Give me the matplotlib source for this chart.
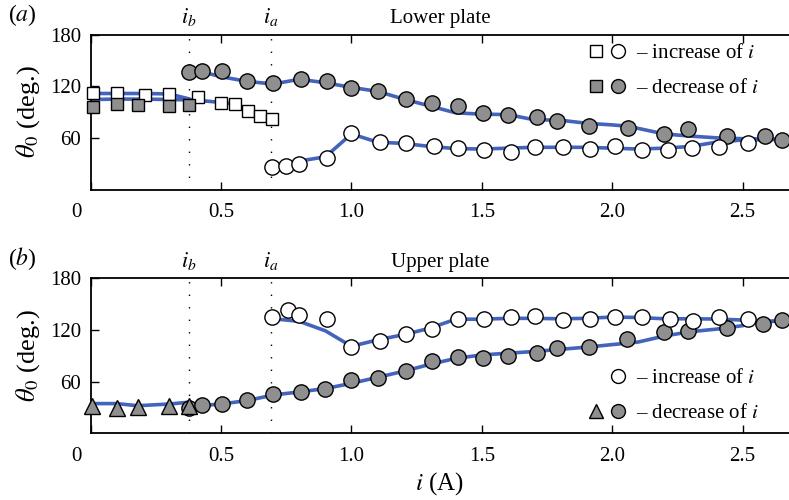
import numpy as np
import matplotlib
matplotlib.use('Agg')
import matplotlib.pyplot as plt
from matplotlib.lines import Line2D
from matplotlib.legend_handler import HandlerTuple

plt.rcParams['font.family'] = ['Liberation Serif', 'DejaVu Serif']
plt.rcParams['mathtext.fontset'] = 'stix'

# ---- panel (a): lower plate ----
a_sq_inc_x = [0.01, 0.10, 0.21, 0.30, 0.41, 0.50, 0.555, 0.605, 0.65, 0.695]
a_sq_inc_y = [112, 112, 109.5, 111, 107, 100.5, 99, 91.5, 85.5, 81.5]
a_sq_dec_x = [0.01, 0.10, 0.18, 0.30, 0.375]
a_sq_dec_y = [96, 99, 98.5, 97.5, 98.5]
a_ci_dec_x = [0.375, 0.425, 0.505, 0.60, 0.70, 0.805, 0.905, 1.0, 1.10, 1.21, 1.31, 1.41,
              1.505, 1.60, 1.71, 1.79, 1.91, 2.06, 2.20, 2.29, 2.44, 2.585, 2.65]
a_ci_dec_y = [136.5, 138, 138, 126, 124, 128.5, 126, 117.5, 114, 105, 100.5, 97,
              88.5, 86, 84.5, 79, 73.5, 72, 65, 70, 62, 62, 58]
a_ci_inc_x = [0.695, 0.75, 0.80, 0.905, 1.0, 1.11, 1.21, 1.315, 1.41, 1.51, 1.61, 1.705,
              1.81, 1.915, 2.01, 2.115, 2.215, 2.305, 2.41, 2.52]
a_ci_inc_y = [26, 27, 30, 37, 66, 55, 53.5, 50.5, 48, 46, 43.5, 49.5,
              49.5, 47, 50.5, 45.5, 46, 48.5, 49, 54]

# smoothed curves (blue)
a_fit1_x = [0.0, 0.1, 0.2, 0.3, 0.38]
a_fit1_y = [111.5, 111.5, 111.5, 111, 105]
a_fit2_x = [0.0, 0.1, 0.2, 0.3, 0.38, 0.45, 0.5, 0.55, 0.6]
a_fit2_y = [104.5, 105, 105, 104.5, 104, 102.5, 101, 99.5, 94]
a_fit3_x = [0.42, 0.5, 0.6, 0.7, 0.8, 0.9, 1.0, 1.1, 1.2, 1.3, 1.4, 1.5, 1.6, 1.7,
            1.8, 1.9, 2.0, 2.06, 2.2, 2.3, 2.4, 2.5, 2.6, 2.68]
a_fit3_y = [137, 131, 125.5, 122.5, 128, 124, 118.5, 114, 105, 97, 89, 87.5, 87, 81,
            80.5, 77, 75, 73.5, 64.5, 62, 60, 59, 58.5, 58]
a_fit4_x = [0.69, 0.75, 0.8, 0.9, 1.0, 1.1, 1.2, 1.3, 1.4, 1.5, 1.6, 1.7, 1.8, 1.9,
            2.0, 2.1, 2.2, 2.3, 2.4, 2.5, 2.6, 2.68]
a_fit4_y = [27, 29, 33, 38, 64.5, 55, 53.5, 50, 47.5, 47, 48, 49, 49, 49,
            48, 47, 48, 50, 55, 57.5, 58, 58]

# ---- panel (b): upper plate ----
b_tri_x = [0.005, 0.10, 0.18, 0.30, 0.375]
b_tri_y = [32, 29, 31, 32, 32]
b_ci_dec_x = [0.375, 0.425, 0.505, 0.60, 0.70, 0.805, 0.90, 1.0, 1.10, 1.21, 1.31, 1.41,
              1.505, 1.60, 1.71, 1.79, 1.91, 2.055, 2.20, 2.29, 2.44, 2.58, 2.65]
b_ci_dec_y = [29.5, 33, 34, 38.5, 45.5, 48.5, 52, 62, 64, 72.5, 84.5, 89,
              87, 90, 93, 98.5, 100.5, 109, 118, 119, 122.5, 127, 131]
b_ci_inc_x = [0.695, 0.755, 0.80, 0.905, 1.0, 1.11, 1.21, 1.31, 1.41, 1.51, 1.61, 1.705,
              1.81, 1.915, 2.01, 2.115, 2.22, 2.31, 2.41, 2.52]
b_ci_inc_y = [134.5, 143, 137.5, 133, 100, 107.5, 115, 121, 132.5, 132.5, 134.5, 136,
              131.5, 132.5, 134.5, 135.5, 132.5, 130.5, 135.5, 132.5]

b_fit1_x = [0.0, 0.1, 0.18, 0.3, 0.375]
b_fit1_y = [34.5, 34.5, 32, 34, 36]
b_fit2_x = [0.375, 0.5, 0.6, 0.7, 0.8, 0.9, 1.0, 1.1, 1.2, 1.3, 1.4, 1.5, 1.6, 1.7,
            1.8, 1.9, 2.0, 2.1, 2.2, 2.3, 2.4, 2.5, 2.55, 2.68]
b_fit2_y = [31, 34, 38, 44.5, 48, 52, 58, 65, 72, 80, 87, 91, 93, 95,
            97.5, 100, 103, 106, 113, 118, 121, 125, 129, 131]
b_fit3_x = [0.7, 0.8, 0.9, 1.0, 1.1, 1.2, 1.3, 1.4, 1.5, 1.6, 1.7, 1.8, 1.9, 2.0,
            2.1, 2.2, 2.3, 2.4, 2.5, 2.55, 2.68]
b_fit3_y = [133, 130, 119, 101, 108.5, 114.5, 122, 132.5, 132.5, 133.5, 133.5, 133, 133.5, 135,
            134.5, 133, 133, 132.7, 131.5, 129.5, 131]

i_b = 0.375
i_a = 0.69
x_ticks = [0, 0.5, 1.0, 1.5, 2.0, 2.5]
x_ticklabels = ['', '0.5', '1.0', '1.5', '2.0', '2.5']
y_ticks = [60, 120, 180]

blue = '#3a5bb8'
grey = '#8f8f8f'
fs = 15

fig = plt.figure(figsize=(7.89, 5), dpi=100)
ax_a = fig.add_axes([0.115, 0.621, 0.885, 0.31])
ax_b = fig.add_axes([0.115, 0.1334, 0.885, 0.31])

mk = dict(linestyle='none', markeredgecolor='black', markeredgewidth=1.0,
          clip_on=False, zorder=3)


def style_axes(ax, title):
    ax.set_xlim(0, 2.678)
    ax.set_ylim(0, 180)
    ax.set_xticks(x_ticks)
    ax.set_xticklabels(x_ticklabels)
    ax.set_yticks(y_ticks)
    ax.spines['right'].set_visible(False)
    for s in ['left', 'top', 'bottom']:
        ax.spines[s].set_linewidth(1.3)
    ax.tick_params(direction='in', length=6, width=1, top=True, right=False,
                   labelsize=fs)
    ax.tick_params(axis='x', pad=10)
    ax.tick_params(axis='y', pad=7)
    # the origin label sits in the corner, right-aligned like the y labels
    ax.annotate('0', xy=(0, 0), xycoords='axes fraction', xytext=(-6.5, -10),
                textcoords='offset points', ha='right', va='top', fontsize=fs)
    for x in (i_b, i_a):
        ax.axvline(x, color='black', lw=1, linestyle=(0, (1, 8)), zorder=1)
    ax.text(i_b, 1.04, r'$i_b$', transform=ax.get_xaxis_transform(),
            ha='center', va='bottom', fontsize=16)
    ax.text(i_a, 1.04, r'$i_a$', transform=ax.get_xaxis_transform(),
            ha='center', va='bottom', fontsize=16)
    ax.text(1.34, 1.04, title, transform=ax.get_xaxis_transform(),
            ha='center', va='bottom', fontsize=fs)
    ax.set_ylabel(r'$\theta_0$ (deg.)', fontsize=19, labelpad=6)


# panel (a)
ax = ax_a
for fx, fy in [(a_fit1_x, a_fit1_y), (a_fit2_x, a_fit2_y), (a_fit3_x, a_fit3_y), (a_fit4_x, a_fit4_y)]:
    ax.plot(fx, fy, color=blue, lw=2.6, alpha=0.95, zorder=2, solid_capstyle='round')
ax.plot(a_sq_inc_x, a_sq_inc_y, marker='s', ms=9, markerfacecolor='white', **mk)
ax.plot(a_sq_dec_x, a_sq_dec_y, marker='s', ms=9, markerfacecolor=grey, **mk)
ax.plot(a_ci_dec_x, a_ci_dec_y, marker='o', ms=11, markerfacecolor=grey, **mk)
ax.plot(a_ci_inc_x, a_ci_inc_y, marker='o', ms=11, markerfacecolor='white', **mk)
style_axes(ax, 'Lower plate')
ax.text(-0.119, 1.04, '($a$)', transform=ax.transAxes, ha='left', va='bottom', fontsize=17)

h1 = (Line2D([], [], marker='s', ms=8, mfc='white', mec='black', ls='none'),
      Line2D([], [], marker='o', ms=10, mfc='white', mec='black', ls='none'))
h2 = (Line2D([], [], marker='s', ms=8, mfc=grey, mec='black', ls='none'),
      Line2D([], [], marker='o', ms=10, mfc=grey, mec='black', ls='none'))
ax.legend([h1, h2], ['\u2013 increase of $i$', '\u2013 decrease of $i$'],
          handler_map={tuple: HandlerTuple(ndivide=None, pad=0.3)},
          loc='upper left', bbox_to_anchor=(588 / 789, 0.913), bbox_transform=fig.transFigure,
          frameon=False, fontsize=fs, handlelength=1.8, handletextpad=0.5,
          labelspacing=0.75, borderpad=0, borderaxespad=0)

# panel (b)
ax = ax_b
for fx, fy in [(b_fit1_x, b_fit1_y), (b_fit2_x, b_fit2_y), (b_fit3_x, b_fit3_y)]:
    ax.plot(fx, fy, color=blue, lw=2.6, alpha=0.95, zorder=2, solid_capstyle='round')
ax.plot(b_ci_dec_x, b_ci_dec_y, marker='o', ms=11, markerfacecolor=grey, **mk)
ax.plot(b_tri_x, b_tri_y, marker='^', ms=12, markerfacecolor=grey, **mk)
ax.plot(b_ci_inc_x, b_ci_inc_y, marker='o', ms=11, markerfacecolor='white', **mk)
style_axes(ax, 'Upper plate')
ax.text(-0.119, 1.04, '($b$)', transform=ax.transAxes, ha='left', va='bottom', fontsize=17)
ax.set_xlabel(r'$i$ (A)', fontsize=18, labelpad=3)

g1 = (Line2D([], [], marker='None', ls='none'),
      Line2D([], [], marker='o', ms=10, mfc='white', mec='black', ls='none'))
g2 = (Line2D([], [], marker='^', ms=10, mfc=grey, mec='black', ls='none'),
      Line2D([], [], marker='o', ms=10, mfc=grey, mec='black', ls='none'))
ax.legend([g1, g2], ['\u2013 increase of $i$', '\u2013 decrease of $i$'],
          handler_map={tuple: HandlerTuple(ndivide=None, pad=0.3)},
          loc='upper left', bbox_to_anchor=(588 / 789, 0.263), bbox_transform=fig.transFigure,
          frameon=False, fontsize=fs, handlelength=1.8, handletextpad=0.5,
          labelspacing=0.75, borderpad=0, borderaxespad=0)

fig.savefig('out.png', dpi=100)
